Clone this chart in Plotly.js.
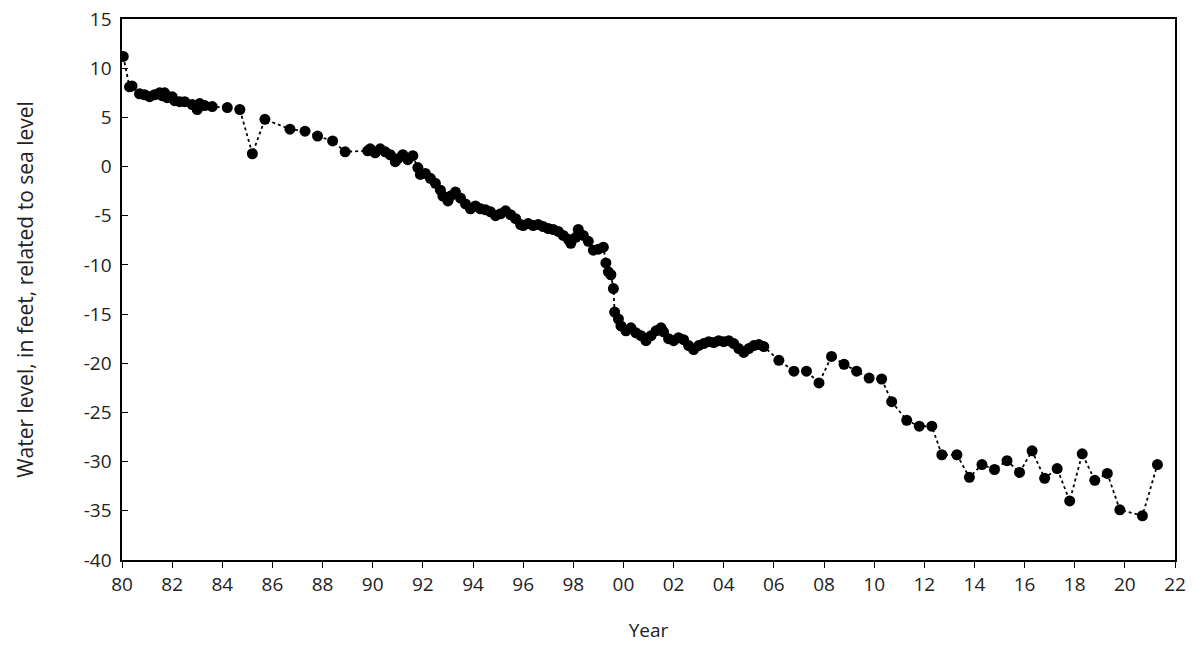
<!DOCTYPE html>
<html>
<head>
<meta charset="utf-8">
<script src="https://cdn.plot.ly/plotly-3.0.1.min.js"></script>
<style>body{margin:0;background:#fff}#chart{width:1192px;height:645px}</style>
</head>
<body>
<div id="chart"></div>
<script>
var years = [1980.05,1980.3,1980.4,1980.7,1980.9,1981.1,1981.3,1981.5,1981.6,1981.7,1981.8,1982.0,1982.1,1982.3,1982.5,1982.8,1983.0,1983.1,1983.3,1983.6,1984.2,1984.7,1985.2,1985.7,1986.7,1987.3,1987.8,1988.4,1988.9,1989.8,1989.9,1990.1,1990.3,1990.5,1990.7,1990.9,1991.0,1991.2,1991.4,1991.6,1991.8,1991.9,1992.1,1992.3,1992.5,1992.7,1992.8,1993.0,1993.1,1993.3,1993.5,1993.7,1993.9,1994.1,1994.3,1994.5,1994.7,1994.9,1995.1,1995.3,1995.5,1995.7,1995.9,1996.0,1996.2,1996.4,1996.6,1996.8,1997.0,1997.2,1997.4,1997.6,1997.8,1997.9,1998.1,1998.2,1998.4,1998.6,1998.8,1999.0,1999.2,1999.3,1999.4,1999.5,1999.6,1999.65,1999.8,1999.9,2000.1,2000.3,2000.5,2000.7,2000.9,2001.1,2001.3,2001.5,2001.6,2001.8,2002.0,2002.2,2002.4,2002.6,2002.8,2003.0,2003.2,2003.4,2003.6,2003.8,2004.0,2004.2,2004.4,2004.6,2004.8,2005.0,2005.2,2005.4,2005.6,2006.2,2006.8,2007.3,2007.8,2008.3,2008.8,2009.3,2009.8,2010.3,2010.7,2011.3,2011.8,2012.3,2012.7,2013.3,2013.8,2014.3,2014.8,2015.3,2015.8,2016.3,2016.8,2017.3,2017.8,2018.3,2018.8,2019.3,2019.8,2020.7,2021.3];
var level = [11.2,8.1,8.2,7.4,7.3,7.1,7.3,7.5,7.2,7.5,7.0,7.1,6.7,6.6,6.6,6.3,5.8,6.4,6.2,6.1,6.0,5.8,1.3,4.8,3.8,3.6,3.1,2.6,1.5,1.6,1.8,1.4,1.8,1.5,1.2,0.5,0.8,1.2,0.7,1.1,-0.1,-0.8,-0.7,-1.2,-1.7,-2.4,-3.0,-3.5,-3.0,-2.6,-3.2,-3.8,-4.3,-4.0,-4.3,-4.4,-4.6,-5.0,-4.8,-4.5,-4.9,-5.3,-5.9,-6.0,-5.8,-6.0,-5.9,-6.1,-6.3,-6.4,-6.6,-7.0,-7.4,-7.8,-7.2,-6.4,-7.0,-7.6,-8.5,-8.4,-8.2,-9.8,-10.7,-11.0,-12.4,-14.8,-15.5,-16.2,-16.7,-16.4,-16.9,-17.2,-17.7,-17.2,-16.7,-16.4,-16.8,-17.5,-17.7,-17.4,-17.6,-18.2,-18.6,-18.2,-18.0,-17.8,-17.9,-17.7,-17.8,-17.7,-18.0,-18.5,-18.9,-18.5,-18.2,-18.1,-18.3,-19.7,-20.8,-20.8,-22.0,-19.3,-20.1,-20.8,-21.5,-21.6,-23.9,-25.8,-26.4,-26.4,-29.3,-29.3,-31.6,-30.3,-30.8,-29.9,-31.1,-28.9,-31.7,-30.7,-34.0,-29.2,-31.9,-31.2,-34.9,-35.5,-30.3];
var tickYears = [1980,1982,1984,1986,1988,1990,1992,1994,1996,1998,2000,2002,2004,2006,2008,2010,2012,2014,2016,2018,2020,2022];
var tickLabels = tickYears.map(function (y) { return String(y).slice(2); });
var levelTicks = [15,10,5,0,-5,-10,-15,-20,-25,-30,-35,-40];
var levelLabels = levelTicks.map(function (v) { return String(v) + ' '; });

var trace = {
    x: years, y: level,
    mode: 'lines+markers',
    line: {color: 'black', width: 1.8, dash: 'dot'},
    marker: {color: 'black', size: 11},
    type: 'scatter'
};
var axisFont = {family: 'Open Sans, Liberation Sans, sans-serif', size: 19, color: '#222'};
var layout = {
    margin: {l: 122, r: 17, t: 19, b: 85},
    showlegend: false,
    plot_bgcolor: '#fff', paper_bgcolor: '#fff',
    xaxis: {
        range: [1980, 2022], tickvals: tickYears, ticktext: tickLabels,
        ticks: 'outside', ticklen: 6, tickcolor: 'black',
        showline: true, linecolor: 'black', linewidth: 1.5, mirror: true,
        showgrid: false, zeroline: false, tickfont: axisFont,
        title: {text: 'Year', font: axisFont, standoff: 28}
    },
    yaxis: {
        range: [-40, 15], tickvals: levelTicks, ticktext: levelLabels,
        ticks: 'inside', ticklen: 6, tickcolor: 'black',
        showline: true, linecolor: 'black', linewidth: 1.5, mirror: true,
        showgrid: false, zeroline: false, tickfont: axisFont,
        title: {text: 'Water level, in feet, related to sea level', font: {family: axisFont.family, size: 21, color: '#222'}, standoff: 44}
    }
};
Plotly.newPlot('chart', [trace], layout, {displayModeBar: false});
</script>
</body>
</html>
